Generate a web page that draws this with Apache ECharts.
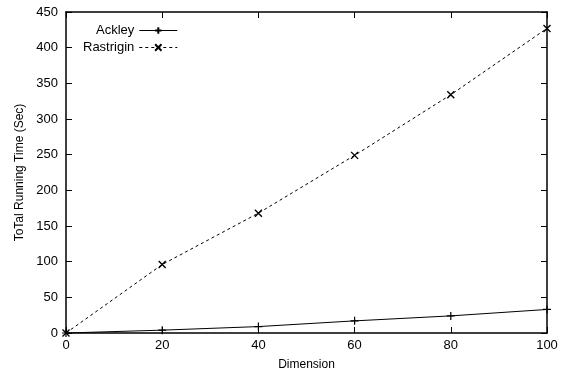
<!DOCTYPE html>
<html><head><meta charset="utf-8">
<script src="https://cdn.jsdelivr.net/npm/echarts@6/dist/echarts.min.js"></script>
<style>html,body{margin:0;padding:0;background:#fff}#c{width:565px;height:376px}</style>
</head><body><div id="c"></div>
<script>
const dimensions = [0, 20, 40, 60, 80, 100];
const ackley = [0, 4, 9, 17, 24, 33];
const rastrigin = [0, 96, 168, 249, 334, 427];
const xTicks = [0, 20, 40, 60, 80, 100];
const yTicks = [0, 50, 100, 150, 200, 250, 300, 350, 400, 450];

const plus = 'path://M0,5L10,5M5,0L5,10';
const cross = 'path://M0,0L10,10M10,0L0,10';
const font = 'Liberation Sans, Arial, sans-serif';
const chart = echarts.init(document.getElementById('c'), null, {renderer: 'canvas'});
const axLine = {show: true, onZero: false, lineStyle: {color: '#000', width: 1.5}};
const tick = {show: true, inside: true, length: 6, lineStyle: {color: '#000', width: 1}};
chart.setOption({
  animation: false,
  backgroundColor: '#fff',
  grid: {left: 66, right: 18, top: 12, bottom: 41},
  legend: {
    left: 78, top: 19, orient: 'vertical', align: 'right', itemGap: 4,
    itemWidth: 38, itemHeight: 8,
    lineStyle: {width: 1},
    textStyle: {fontFamily: font, fontSize: 13, color: '#000'},
    data: ['Ackley', 'Rastrigin']
  },
  xAxis: [{
    type: 'value', min: 0, max: 100, interval: 20,
    name: 'Dimension', nameLocation: 'middle', nameGap: 26,
    nameTextStyle: {fontFamily: font, fontSize: 12, color: '#000'},
    axisLine: axLine, axisTick: tick, splitLine: {show: false},
    axisLabel: {fontFamily: font, fontSize: 13, color: '#000', margin: 6,
      formatter: v => xTicks.includes(v) ? String(v) : ''}
  }, {
    type: 'value', min: 0, max: 100, interval: 20, position: 'top',
    axisLine: axLine, axisTick: tick, axisLabel: {show: false}, splitLine: {show: false}
  }],
  yAxis: [{
    type: 'value', min: 0, max: 450, interval: 50,
    name: 'ToTal Running Time (Sec)', nameLocation: 'middle', nameGap: 40,
    nameTextStyle: {fontFamily: font, fontSize: 12, color: '#000'},
    axisLine: axLine, axisTick: tick, splitLine: {show: false},
    axisLabel: {fontFamily: font, fontSize: 13, color: '#000', margin: 8,
      formatter: v => yTicks.includes(v) ? String(v) : ''}
  }, {
    type: 'value', min: 0, max: 450, interval: 50, position: 'right',
    axisLine: axLine, axisTick: tick, axisLabel: {show: false}, splitLine: {show: false}
  }],
  series: [{
    name: 'Ackley', type: 'line',
    data: dimensions.map((d, i) => [d, ackley[i]]),
    symbol: plus, symbolSize: 8, showAllSymbol: true,
    lineStyle: {color: '#000', width: 1},
    itemStyle: {color: '#000', borderColor: '#000', borderWidth: 1.2}
  }, {
    name: 'Rastrigin', type: 'line',
    data: dimensions.map((d, i) => [d, rastrigin[i]]),
    symbol: cross, symbolSize: 7, showAllSymbol: true,
    lineStyle: {color: '#000', width: 1, type: [3, 3]},
    itemStyle: {color: '#000', borderColor: '#000', borderWidth: 1.4}
  }]
});
</script></body></html>
